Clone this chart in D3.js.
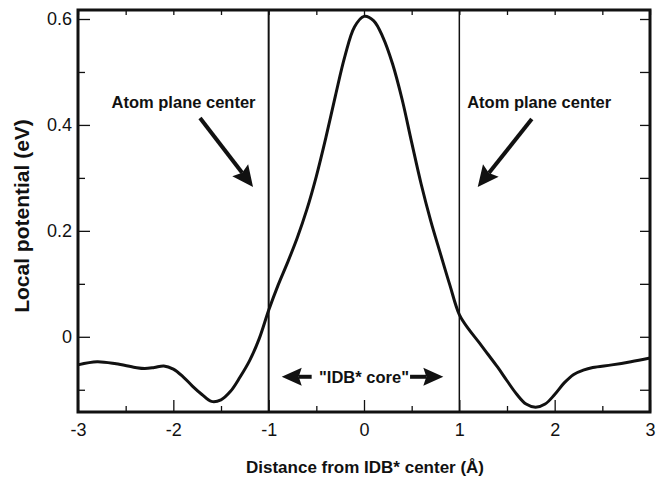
<!DOCTYPE html>
<html>
<head>
<meta charset="utf-8">
<script src="https://cdn.jsdelivr.net/npm/d3@7"></script>
<style>
  body { margin: 0; background: #fff; }
  svg { display: block; font-family: Arial, "Liberation Sans", sans-serif; }
  .tick text { font-size: 18px; fill: #111; }
  .note { font-size: 16.5px; font-weight: bold; fill: #111; }
  .title { font-weight: bold; fill: #111; }
</style>
</head>
<body>
<div id="chart"></div>
<script>
// data
let distance = [-3.0, -2.8, -2.6, -2.4, -2.3, -2.2, -2.1, -2.0, -1.9, -1.8, -1.7, -1.6, -1.5,
  -1.4, -1.3, -1.2, -1.1, -1.0, -0.9, -0.8, -0.7, -0.6, -0.5, -0.4, -0.3, -0.2, -0.1, 0.0,
  0.1, 0.2, 0.3, 0.4, 0.5, 0.6, 0.7, 0.8, 0.9, 1.0, 1.1, 1.2, 1.3, 1.4, 1.5, 1.6, 1.7,
  1.8, 1.9, 2.0, 2.1, 2.2, 2.3, 2.4, 2.6, 2.8, 3.0];
let potential = [-0.053, -0.047, -0.051, -0.058, -0.060, -0.058, -0.055, -0.061, -0.075, -0.093, -0.109, -0.122, -0.119,
  -0.103, -0.076, -0.045, -0.004, 0.050, 0.098, 0.141, 0.187, 0.240, 0.303, 0.376, 0.455, 0.530, 0.585, 0.605,
  0.597, 0.565, 0.515, 0.448, 0.367, 0.288, 0.219, 0.158, 0.098, 0.042, 0.014, -0.009, -0.033, -0.057, -0.083, -0.108, -0.127,
  -0.133, -0.127, -0.109, -0.087, -0.071, -0.063, -0.058, -0.053, -0.047, -0.040];

let planeCenters = [-1, 1];
let xMajorTicks = [-3, -2, -1, 0, 1, 2, 3];
let xMinorTicks = [-2.5, -1.5, -0.5, 0.5, 1.5, 2.5];
let yMajorTicks = [0, 0.2, 0.4, 0.6];
let yMinorTicks = [-0.1, 0.1, 0.3, 0.5];

let svgWidth = 656;
let svgHeight = 479;

let margin = { top: 10, right: 6, bottom: 67, left: 78 };
let width = svgWidth - margin.left - margin.right;
let height = svgHeight - margin.top - margin.bottom;

let svg = d3.select("#chart")
  .append("svg")
  .attr("width", svgWidth)
  .attr("height", svgHeight);

let chartGroup = svg.append("g")
  .attr("transform", `translate(${margin.left}, ${margin.top})`);

let x = d3.scaleLinear().domain([-3, 3]).range([0, width]);
let y = d3.scaleLinear().domain([-0.142, 0.617]).range([height, 0]);

// axes: inward ticks, labels on bottom and left only
function addAxis(axis, transform) {
  let g = chartGroup.append("g").attr("transform", transform).call(axis);
  g.select(".domain").remove();
  g.selectAll(".tick line").attr("stroke", "#111").attr("stroke-width", 1.3);
  return g;
}

addAxis(d3.axisBottom(x).tickValues(xMajorTicks).tickSize(-12).tickPadding(11).tickFormat(d => d),
  `translate(0, ${height})`)
  .selectAll("text").attr("font-family", null).attr("font-size", null);
addAxis(d3.axisBottom(x).tickValues(xMinorTicks).tickSize(-6).tickFormat(""), `translate(0, ${height})`);
addAxis(d3.axisTop(x).tickValues(xMajorTicks.concat(xMinorTicks)).tickSize(-5).tickFormat(""), "translate(0,0)");

addAxis(d3.axisLeft(y).tickValues(yMajorTicks).tickSize(-12).tickPadding(6).tickFormat(d => d),
  "translate(0,0)")
  .selectAll("text").attr("font-family", null).attr("font-size", null);
addAxis(d3.axisLeft(y).tickValues(yMinorTicks).tickSize(-7).tickFormat(""), "translate(0,0)");
addAxis(d3.axisRight(y).tickValues(yMajorTicks.concat(yMinorTicks)).tickSize(-10).tickFormat(""),
  `translate(${width},0)`);

// atom plane lines
chartGroup.selectAll(".plane")
  .data(planeCenters)
  .enter()
  .append("line")
  .attr("x1", d => x(d))
  .attr("x2", d => x(d))
  .attr("y1", 0)
  .attr("y2", height)
  .attr("stroke", "#111")
  .attr("stroke-width", (d, i) => i === 0 ? 2 : 1.5);

// potential curve
let line = d3.line()
  .x((d, i) => x(distance[i]))
  .y(d => y(d))
  .curve(d3.curveCatmullRom.alpha(0.5));

chartGroup.append("path")
  .datum(potential)
  .attr("d", line)
  .attr("fill", "none")
  .attr("stroke", "#111")
  .attr("stroke-width", 3);

// frame
chartGroup.append("rect")
  .attr("width", width)
  .attr("height", height)
  .attr("fill", "none")
  .attr("stroke", "#111")
  .attr("stroke-width", 3);

// arrow with a filled, notched head; points given in data units
function arrow(x0, y0, x1, y1, headLen, headHalf) {
  let ax = x(x0), ay = y(y0), bx = x(x1), by = y(y1);
  let dx = bx - ax, dy = by - ay;
  let len = Math.sqrt(dx * dx + dy * dy);
  let ux = dx / len, uy = dy / len;
  let px = -uy, py = ux;
  let baseX = bx - ux * headLen, baseY = by - uy * headLen;
  let notchX = bx - ux * headLen * 0.85, notchY = by - uy * headLen * 0.85;

  chartGroup.append("line")
    .attr("x1", ax).attr("y1", ay)
    .attr("x2", notchX).attr("y2", notchY)
    .attr("stroke", "#111")
    .attr("stroke-width", 4);

  chartGroup.append("path")
    .attr("d", `M${bx},${by}L${baseX + px * headHalf},${baseY + py * headHalf}` +
      `L${notchX},${notchY}L${baseX - px * headHalf},${baseY - py * headHalf}Z`)
    .attr("fill", "#111");
}

arrow(-1.72, 0.413, -1.164, 0.283, 21, 10);
arrow(1.76, 0.411, 1.193, 0.283, 21, 10);
arrow(-0.549, -0.0755, -0.863, -0.0755, 20, 9);
arrow(0.483, -0.0755, 0.832, -0.0755, 20, 9);

// annotations
chartGroup.append("text")
  .attr("class", "note")
  .attr("x", x(-1.893))
  .attr("y", y(0.432))
  .attr("text-anchor", "middle")
  .text("Atom plane center");

chartGroup.append("text")
  .attr("class", "note")
  .attr("x", x(1.837))
  .attr("y", y(0.432))
  .attr("text-anchor", "middle")
  .text("Atom plane center");

chartGroup.append("text")
  .attr("class", "note")
  .attr("x", x(0))
  .attr("y", y(-0.0755) + 6)
  .attr("text-anchor", "middle")
  .text("\"IDB* core\"");

// axis titles
svg.append("text")
  .attr("class", "title")
  .attr("x", 365)
  .attr("y", 473)
  .attr("text-anchor", "middle")
  .attr("font-size", 17)
  .text("Distance from IDB* center (Å)");

svg.append("text")
  .attr("class", "title")
  .attr("transform", "rotate(-90)")
  .attr("x", -216)
  .attr("y", 29)
  .attr("text-anchor", "middle")
  .attr("font-size", 21)
  .text("Local potential (eV)");
</script>
</body>
</html>
